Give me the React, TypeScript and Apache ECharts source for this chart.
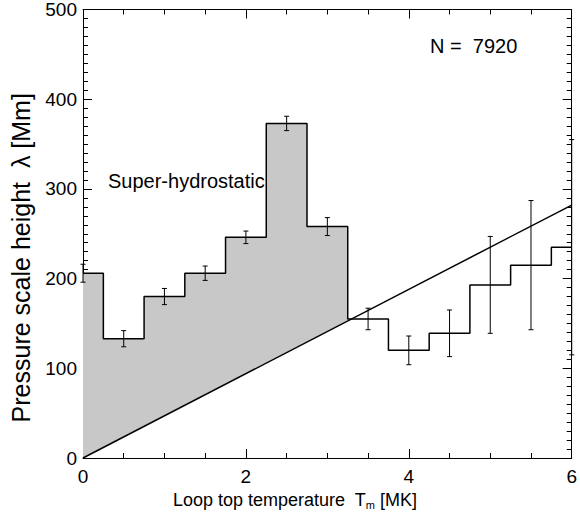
import React, { useEffect, useRef } from "react";
import * as echarts from "echarts";

const binCenters = [0, 0.5, 1.0, 1.5, 2.0, 2.5, 3.0, 3.5, 4.0, 4.5, 5.0, 5.5, 6.0];
const lambdaValues = [206, 133, 180, 206, 246, 373, 258, 155, 120, 139, 193, 215, 235];
const lambdaErrors = [10, 9, 9, 8, 7, 8, 10, 12, 16, 26, 54, 72, 120];
const hydroT = [0, 6];
const hydroLambda = [0, 282];
const xTicks = [0, 2, 4, 6];
const yTicks = [0, 100, 200, 300, 400, 500];

const FONT = "'Liberation Sans', Arial, Helvetica, sans-serif";

function hydroAt(t: number) {
  const k = (hydroLambda[1] - hydroLambda[0]) / (hydroT[1] - hydroT[0]);
  return hydroLambda[0] + k * (t - hydroT[0]);
}

function buildFillPolygon(): number[][] {
  const pts: number[][] = [];
  const n = binCenters.length;
  for (let i = 0; i < n; i++) {
    const lo = i === 0 ? binCenters[0] : (binCenters[i - 1] + binCenters[i]) / 2;
    const hi = i === n - 1 ? binCenters[n - 1] : (binCenters[i] + binCenters[i + 1]) / 2;
    const v = lambdaValues[i];
    if (v <= hydroAt(lo)) break;
    pts.push([lo, v]);
    if (v > hydroAt(hi)) {
      pts.push([hi, v]);
    } else {
      const k = (hydroLambda[1] - hydroLambda[0]) / (hydroT[1] - hydroT[0]);
      const tc = hydroT[0] + (v - hydroLambda[0]) / k;
      pts.push([tc, v]);
      break;
    }
  }
  const last = pts[pts.length - 1];
  pts.push([last[0], hydroAt(last[0])]);
  pts.push([binCenters[0], hydroAt(binCenters[0])]);
  return pts;
}

export default function App() {
  const ref = useRef<HTMLDivElement>(null);
  useEffect(() => {
    if (!ref.current) return;
    const chart = echarts.init(ref.current, undefined, { renderer: "svg" });
    const polyData = buildFillPolygon();
    const axisLine = { show: true, onZero: false, lineStyle: { color: "#000", width: 1 } };
    const xCommon = {
      type: "value" as const,
      min: 0,
      max: 6,
      interval: 2,
      axisLine,
      axisTick: { show: true, inside: true, length: 9, lineStyle: { color: "#000" } },
      minorTick: { show: true, splitNumber: 4, length: 5, lineStyle: { color: "#000" } },
      splitLine: { show: false },
    };
    const yCommon = {
      type: "value" as const,
      min: 0,
      max: 500,
      interval: 100,
      axisLine,
      axisTick: { show: true, inside: true, length: 9, lineStyle: { color: "#000" } },
      minorTick: { show: true, splitNumber: 10, length: 5, lineStyle: { color: "#000" } },
      splitLine: { show: false },
    };
    chart.setOption({
      animation: false,
      backgroundColor: "#fff",
      textStyle: { fontFamily: FONT },
      grid: { left: 83, right: 3, top: 8, bottom: 56, containLabel: false },
      xAxis: [
        {
          ...xCommon,
          position: "bottom",
          axisLabel: {
            show: true,
            color: "#000",
            fontSize: 19,
            fontFamily: FONT,
            margin: 9,
            formatter: (v: number) => (xTicks.includes(v) ? String(v) : ""),
          },
          name: "Loop top temperature  T{sub|m} [MK]",
          nameLocation: "middle",
          nameGap: 32,
          nameTextStyle: {
            color: "#000",
            fontSize: 18,
            fontFamily: FONT,
            padding: [0, 65, 0, 0],
            rich: {
              sub: { fontSize: 11, fontFamily: FONT, color: "#000", verticalAlign: "bottom", padding: [9, 0, 0, 0] },
            },
          },
        },
        { ...xCommon, position: "top", axisLabel: { show: false } },
      ],
      yAxis: [
        {
          ...yCommon,
          position: "left",
          axisLabel: {
            show: true,
            color: "#000",
            fontSize: 19,
            fontFamily: FONT,
            margin: 6,
            formatter: (v: number) => (yTicks.includes(v) ? String(v) : ""),
          },
          name: "Pressure scale height  λ [Mm]",
          nameLocation: "middle",
          nameGap: 50,
          nameTextStyle: { color: "#000", fontSize: 25, fontFamily: FONT, padding: [0, 48, 0, 0] },
        },
        { ...yCommon, position: "right", axisLabel: { show: false } },
      ],
      graphic: [
        {
          type: "text",
          left: 108,
          top: 171,
          style: { text: "Super-hydrostatic", fill: "#000", font: `20px ${FONT}` },
        },
        {
          type: "text",
          left: 430,
          top: 36,
          style: { text: "N =  7920", fill: "#000", font: `20px ${FONT}` },
        },
      ],
      series: [
        {
          type: "custom",
          z: 1,
          data: [0],
          renderItem: (_params: any, api: any) => {
            const points = polyData.map((p) => api.coord(p));
            return {
              type: "polygon",
              shape: { points },
              style: { fill: "#c8c8c8", stroke: "none" },
            };
          },
        },
        {
          type: "line",
          z: 3,
          step: "middle",
          showSymbol: false,
          symbol: "none",
          data: binCenters.map((t, i) => [t, lambdaValues[i]]),
          lineStyle: { color: "#000", width: 1.5 },
        },
        {
          type: "line",
          z: 3,
          showSymbol: false,
          symbol: "none",
          data: hydroT.map((t, i) => [t, hydroLambda[i]]),
          lineStyle: { color: "#000", width: 1.5 },
        },
        {
          type: "custom",
          z: 4,
          clip: false,
          data: binCenters.map((t, i) => [t, lambdaValues[i] - lambdaErrors[i], lambdaValues[i] + lambdaErrors[i]]),
          renderItem: (_params: any, api: any) => {
            const x = api.value(0);
            const lo = api.coord([x, api.value(1)]);
            const hi = api.coord([x, api.value(2)]);
            const w = 2.5;
            const style = { stroke: "#000", lineWidth: 1 };
            return {
              type: "group",
              children: [
                { type: "line", shape: { x1: lo[0], y1: lo[1], x2: hi[0], y2: hi[1] }, style },
                { type: "line", shape: { x1: lo[0] - w, y1: lo[1], x2: lo[0] + w, y2: lo[1] }, style },
                { type: "line", shape: { x1: hi[0] - w, y1: hi[1], x2: hi[0] + w, y2: hi[1] }, style },
              ],
            };
          },
        },
      ],
    });
    return () => chart.dispose();
  }, []);
  return <div ref={ref} style={{ width: 580, height: 515, position: "absolute", left: 0, top: 0 }} />;
}
